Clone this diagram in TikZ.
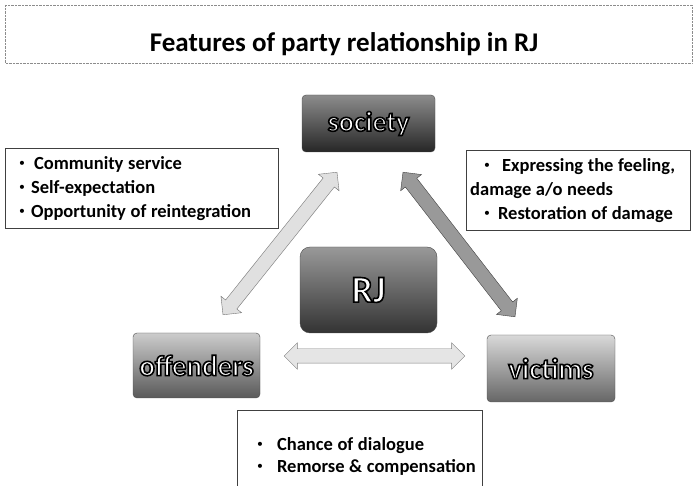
\documentclass[tikz,border=0pt]{standalone}
\usepackage{fontspec}
\setmainfont{Carlito}
\usetikzlibrary{shapes.arrows, calc}
\tikzstyle{partybox} = [rectangle, rounded corners=4pt, draw=black!70, text=white, font=\bfseries\fontsize{29}{30}\selectfont]
\tikzstyle{notebox} = [rectangle, draw=black!75, anchor=north west, align=left, inner ysep=0pt, font=\bfseries\fontsize{18.5}{24}\selectfont, execute at begin node={\spaceskip=0.25em\relax}]
\tikzstyle{linkarrow} = [double arrow, double arrow head extend=6pt, inner sep=7pt, sloped, midway]
\newcommand{\dotitem}{{\fontsize{22}{22}\selectfont·}}
\newcommand{\outlined}[1]{\special{pdf:literal direct 0 G 1.6 w 2 Tr}#1\special{pdf:literal direct 0 Tr}}

\begin{document}
\begin{tikzpicture}[x=1pt, y=-1pt]
    \useasboundingbox (0,0) rectangle (694,486);
    % title
    \draw [black!45, densely dotted] (5,5) rectangle (692,63);
    \node (title) [anchor=base, font=\bfseries\fontsize{27}{30}\selectfont] at (344,52) {Features of party relationship in RJ};

    % parties
    \node (society) [partybox, font=\bfseries\fontsize{28}{30}\selectfont, minimum width=133pt, minimum height=57pt, top color=black!45, bottom color=black!85] at (368.5,123.5) {\outlined{society}};
    \node (rj) [partybox, rounded corners=10pt, minimum width=137pt, minimum height=86pt, top color=black!40, bottom color=black!80, font=\bfseries\fontsize{38}{40}\selectfont] at (368.5,290) {\outlined{RJ}};
    \node (offenders) [partybox, minimum width=127pt, minimum height=65pt, top color=black!20, bottom color=black!65] at (196.5,365.5) {\outlined{offenders}};
    \node (victims) [partybox, minimum width=128pt, minimum height=67pt, top color=black!15, bottom color=black!60] at (551,368.5) {\outlined{victims}};

    % notes
    \node (offnote) [notebox, text width=257pt, inner xsep=8pt, minimum height=80pt] at (5,148)
        {\hspace{6pt}\dotitem\hspace{9pt}Community service\\ \hspace{6pt}\dotitem\hspace{6pt}Self-expectation\\ \hspace{6pt}\dotitem\hspace{6pt}Opportunity of reintegration};
    \node (vicnote) [notebox, text width=216pt, inner xsep=4pt, minimum height=80pt] at (466,150)
        {\hspace{14pt}\dotitem\hspace{12pt}Expressing the feeling,\\ damage a/o needs\\ \hspace{14pt}\dotitem\hspace{8pt}Restoration of damage};
    \node (rjnote) [notebox, text width=237pt, inner xsep=4pt, minimum height=92pt, font=\bfseries\fontsize{18.5}{22}\selectfont] at (237,410)
        {\hspace{16pt}\dotitem\hspace{14pt}Chance of dialogue\\ \hspace{16pt}\dotitem\hspace{14pt}Remorse \& compensation};

    % connectors
    \coordinate (la1) at ($(offenders.north)+(26.5,-18)$);
    \coordinate (la2) at ($(society.south)+(-31.5,20)$);
    \coordinate (ra1) at ($(society.south)+(34.5,20)$);
    \coordinate (ra2) at ($(victims.north)+(-36,-18)$);
    \coordinate (ha1) at ($(offenders.east)+(24,-9.5)$);
    \coordinate (ha2) at ($(victims.west)+(-22,-12.5)$);
    \path let \p1=($(la2)-(la1)$), \n1={veclen(\x1,\y1)} in
        (la1) -- (la2) node [linkarrow, minimum height=\n1, draw=black!55, fill=black!12] {};
    \path let \p1=($(ra2)-(ra1)$), \n1={veclen(\x1,\y1)} in
        (ra1) -- (ra2) node [linkarrow, minimum height=\n1, draw=black!75, fill=black!40] {};
    \path let \p1=($(ha2)-(ha1)$), \n1={veclen(\x1,\y1)} in
        (ha1) -- (ha2) node [linkarrow, minimum height=\n1, draw=black!50, fill=black!10] {};
\end{tikzpicture}
\end{document}
